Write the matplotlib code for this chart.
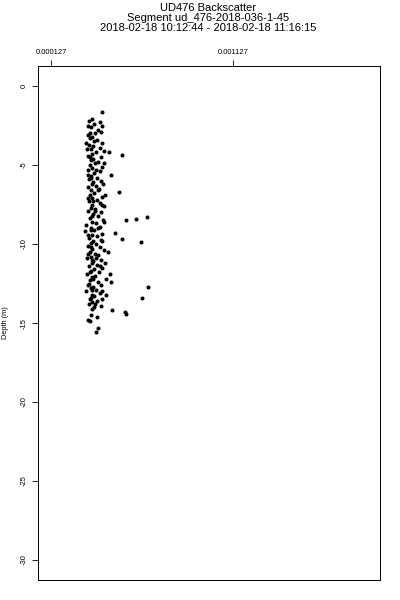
import matplotlib
matplotlib.use("Agg")
import matplotlib.pyplot as plt
import numpy as np

plt.rcParams["font.family"] = ["Liberation Sans", "DejaVu Sans"]

title_lines = [
    "UD476 Backscatter",
    "Segment ud_476-2018-036-1-45",
    "2018-02-18 10:12:44 - 2018-02-18 11:16:15",
]
x_ticks = [0.000127, 0.001127]
x_tick_labels = ["0.000127", "0.001127"]
y_ticks = [0, -5, -10, -15, -20, -25, -30]

# depth (m) and backscatter (x 1e-6)
depth = [
    -1.65, -2.1, -2.2, -2.3, -2.5, -2.6, -2.5, -2.9, -3.0, -3.2, -3.3, -3.4, -3.5,
    -3.6, -3.7, -3.8, -3.9, -4.0, -4.1, -4.2, -4.3, -4.4, -4.35, -4.5, -4.6, -4.7,
    -4.8, -4.9, -5.0, -5.1, -5.2, -5.3, -5.4, -5.5, -5.6, -5.7, -5.8, -5.9, -6.0,
    -6.1, -6.2, -6.3, -6.4, -6.5, -6.6, -6.7, -6.8, -6.9, -7.0, -7.1, -7.2, -7.3,
    -7.4, -7.5, -7.6, -7.7, -7.8, -7.9, -8.0, -8.1, -8.2, -8.3, -8.35, -8.4, -8.5,
    -8.45, -8.6, -8.7, -8.8, -8.9, -9.0, -9.1, -9.2, -9.3, -9.35, -9.4, -9.5, -9.6,
    -9.7, -9.75, -9.8, -9.9, -9.95, -10.0, -10.1, -10.2, -10.3, -10.4, -10.5, -10.6,
    -10.7, -10.8, -10.9, -11.0, -11.1, -11.2, -11.3, -11.4, -11.5, -11.6, -11.7,
    -11.8, -11.9, -12.0, -12.1, -12.2, -12.3, -12.4, -12.5, -12.6, -12.7, -12.75,
    -12.8, -12.9, -13.0, -13.1, -13.2, -13.3, -13.4, -13.45, -13.5, -13.6, -13.7,
    -13.8, -13.9, -14.0, -14.2, -14.3, -14.4, -14.5, -14.6, -14.8, -15.3, -15.6,
    -2.4, -2.8, -3.1, -3.6, -4.0, -4.5, -4.9, -5.3, -5.8, -6.2, -6.6, -7.1, -7.5,
    -7.9, -8.2, -8.6, -9.0, -9.4, -9.8, -10.2, -10.6, -11.0, -11.4, -11.8, -12.2,
    -12.6, -13.0, -13.4, -13.8, -14.1, -14.9, -3.0, -5.6, -7.3, -9.1, -10.9, -12.9,
    -6.9, -11.2, -4.2, -10.5, -11.9, -12.4, -13.2,
]
backscatter_u = [
    410, 350, 335, 395, 330, 345, 405, 400, 370, 355, 340, 380, 365,
    320, 335, 360, 395, 345, 420, 375, 350, 330, 517, 400, 360, 345,
    385, 370, 340, 410, 355, 330, 395, 365, 457, 345, 380, 335, 400,
    360, 350, 375, 330, 390, 345, 501, 365, 340, 410, 355, 380, 335,
    395, 350, 420, 345, 370, 330, 400, 360, 385, 654, 340, 594, 539,
    415, 355, 375, 320, 395, 345, 365, 315, 480, 410, 350, 380, 335,
    517, 400, 360, 622, 345, 375, 330, 395, 355, 420, 340, 370,
    385, 345, 325, 400, 360, 350, 380, 335, 410, 365, 345,
    390, 325, 370, 355, 430, 340, 385, 335, 400, 660, 360,
    345, 375, 320, 395, 350, 365, 627, 410, 340, 380, 355,
    335, 400, 365, 462, 534, 540, 345, 380, 330, 385, 372,
    365, 385, 330, 410, 325, 340, 420, 375, 345, 415, 385, 330, 405,
    370, 350, 420, 385, 330, 410, 345, 330, 355, 395, 340, 360,
    330, 410, 345, 370, 350, 340, 340, 330, 360, 345, 375, 355,
    425, 425, 445, 440, 450, 455, 430,
]
backscatter = np.array(backscatter_u) * 1e-6

fig = plt.figure(figsize=(4, 6), dpi=100)
ax = fig.add_axes([0.095, 0.0333, 0.855, 0.8567])

ax.plot(backscatter, depth, "o", color="black", markersize=2.9, markeredgewidth=0)

ax.set_xlim(0.0000556, 0.001935)
ax.set_ylim(-31.27, 1.27)

ax.xaxis.tick_top()
ax.set_xticks(x_ticks)
ax.set_xticklabels(x_tick_labels, fontsize=5.5)
ax.set_yticks(y_ticks)
ax.set_yticklabels([str(t) for t in y_ticks], fontsize=5.5, rotation=90, va="center")
ax.tick_params(axis="both", direction="out", length=4.5, width=0.6, pad=3)
for sp in ax.spines.values():
    sp.set_linewidth(0.7)

ax.set_ylabel("Depth (m)", fontsize=5.3, labelpad=8)

for i, line in enumerate(title_lines):
    fig.text(0.52, 0.987 - i * 0.0172, line, ha="center", va="center", fontsize=8)

fig.savefig("out.png", dpi=100)
